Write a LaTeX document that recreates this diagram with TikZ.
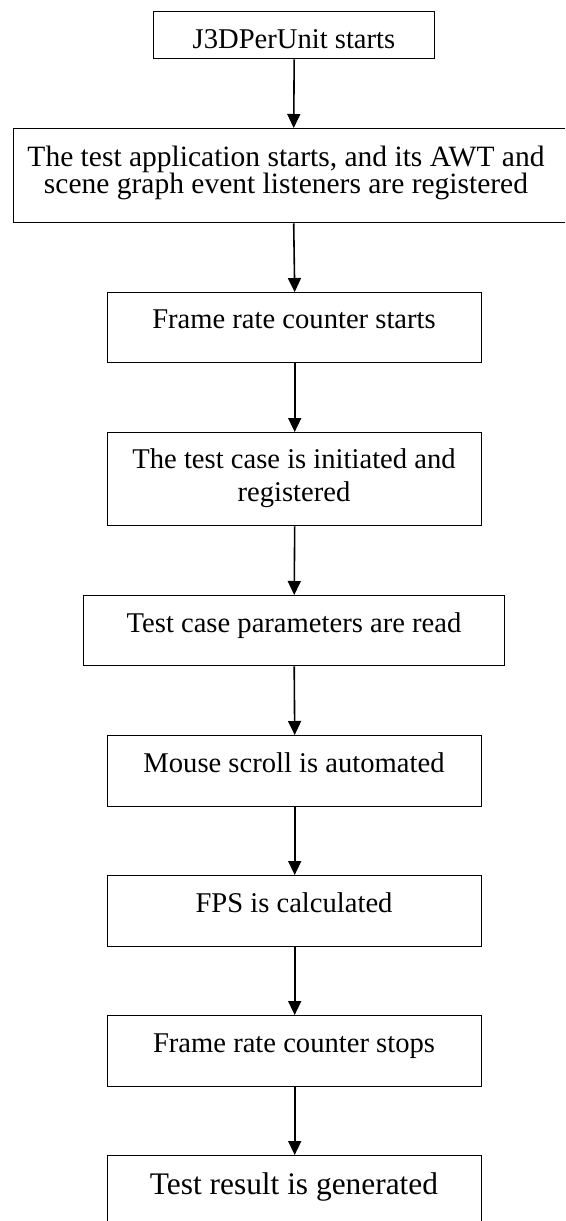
\documentclass[tikz,border=0pt]{standalone}
\usepackage{fontspec}
\setmainfont{Liberation Serif}
\usetikzlibrary{arrows.meta}
\begin{document}
\begin{tikzpicture}[x=1pt,y=-1pt,
  flowbox/.style={draw=black,line width=1.4pt,rectangle,inner sep=0pt,anchor=north west},
  boxtext/.style={anchor=base,inner sep=0pt,font=\fontsize{28.6}{32}\selectfont},
  flowarrow/.style={draw=black,line width=1.6pt,-{Triangle[length=14pt,width=13pt]}}]
\useasboundingbox (0,0) rectangle (565,1221);
\clip (0,0) rectangle (565,1221);
% boxes
\node[flowbox,minimum width=281pt,minimum height=47pt] (b1) at (153,11) {};
\node[flowbox,minimum width=560pt,minimum height=94pt] (b2) at (13,128) {};
\node[flowbox,minimum width=374pt,minimum height=70pt] (b3) at (107,292) {};
\node[flowbox,minimum width=374pt,minimum height=93pt] (b4) at (107,432) {};
\node[flowbox,minimum width=421pt,minimum height=70pt] (b5) at (83,595) {};
\node[flowbox,minimum width=374pt,minimum height=71pt] (b6) at (107,735) {};
\node[flowbox,minimum width=374pt,minimum height=71pt] (b7) at (107,875) {};
\node[flowbox,minimum width=374pt,minimum height=71pt] (b8) at (107,1015) {};
\node[flowbox,minimum width=374pt,minimum height=85pt] (b9) at (107,1155) {};
% texts
\node[boxtext] (t1) at (294,48) {J3DPerUnit starts};
\node[boxtext,font=\fontsize{29.5}{32}\selectfont] (t2a) at (286,166) {The test application starts, and its AWT and};
\node[boxtext,font=\fontsize{29.5}{32}\selectfont] (t2b) at (286,193) {scene graph event listeners are registered};
\node[boxtext] (t3) at (294,328) {Frame rate counter starts};
\node[boxtext] (t4a) at (294,468) {The test case is initiated and};
\node[boxtext] (t4b) at (294,501) {registered};
\node[boxtext] (t5) at (294,632) {Test case parameters are read};
\node[boxtext] (t6) at (294,772) {Mouse scroll is automated};
\node[boxtext] (t7) at (294,912) {FPS is calculated};
\node[boxtext] (t8) at (294,1052) {Frame rate counter stops};
\node[boxtext,font=\fontsize{31.4}{34}\selectfont] (t9) at (294,1194) {Test result is generated};
% arrows
\draw[flowarrow] (b1.south) -- (b2.north);
\draw[flowarrow] (b2.south) -- (b3.north);
\draw[flowarrow] (b3.south) -- (b4.north);
\draw[flowarrow] (b4.south) -- (b5.north);
\draw[flowarrow] (b5.south) -- (b6.north);
\draw[flowarrow] (b6.south) -- (b7.north);
\draw[flowarrow] (b7.south) -- (b8.north);
\draw[flowarrow] (b8.south) -- (b9.north);
\end{tikzpicture}
\end{document}
